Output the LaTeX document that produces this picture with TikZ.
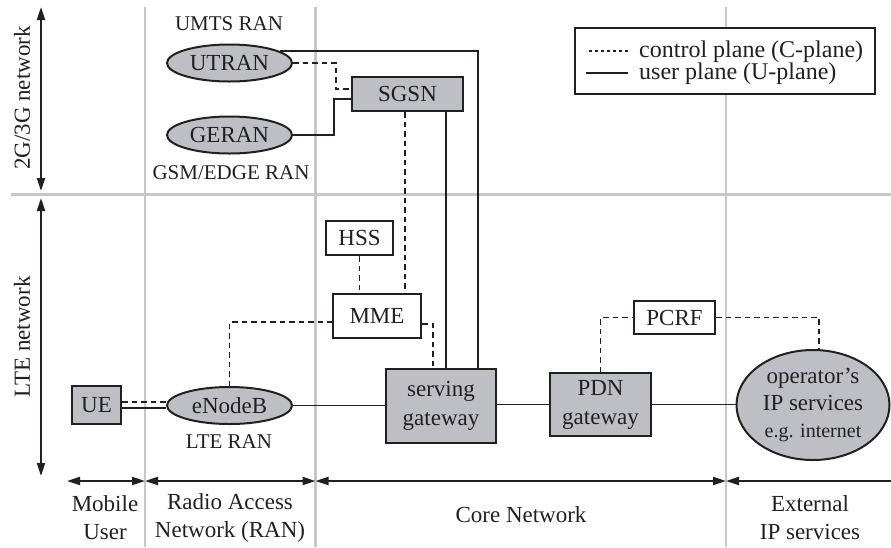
\documentclass[tikz,border=0pt]{standalone}
\usepackage{fontspec}
\setmainfont{Liberation Serif}
\usetikzlibrary{shapes.geometric,arrows.meta,calc}
\definecolor{nodegray}{RGB}{190,191,196}
\definecolor{gridgray}{RGB}{198,199,203}
\definecolor{ink}{RGB}{35,31,32}
\begin{document}
\begin{tikzpicture}[x=1pt,y=-1pt,
  every node/.style={font=\fontsize{23}{28}\selectfont, text=ink, inner sep=0pt},
  small/.style={font=\fontsize{21}{25}\selectfont},
  gbox/.style={draw=ink, fill=nodegray, line width=2pt, rectangle},
  wbox/.style={draw=ink, fill=white, line width=2pt, rectangle},
  gell/.style={draw=ink, fill=nodegray, line width=2pt, ellipse},
  usr/.style={draw=ink, line width=1.9pt},
  ctrl/.style={draw=ink, line width=1.9pt, dash pattern=on 5.5pt off 4pt},
  gridline/.style={draw=gridgray, line width=2.2pt},
  span/.style={draw=ink, line width=2pt,
    {Triangle[length=13pt,width=8pt]}-{Triangle[length=13pt,width=8pt]}},
]
\useasboundingbox (0,0) rectangle (891,547);

% separating grid
\draw[gridline] (145,7) -- (145,547);
\draw[gridline] (315.5,7) -- (315.5,547);
\draw[gridline] (726,7) -- (726,547);
\draw[gridline] (11,194.5) -- (891,194.5);

% network generations (left)
\draw[span] (41,7) -- (41,191);
\draw[span] (41,198) -- (41,476);
\node[rotate=90] at (22,98) {2G/3G network};
\node[rotate=90] at (22,337) {LTE network};

% domains (bottom)
\begin{scope}
\clip (0,0) rectangle (891,547);
\draw[span] (67,481) -- (145,481);
\draw[span] (145,481) -- (315.5,481);
\draw[span] (315.5,481) -- (726,481);
\draw[span] (726,481) -- (905,481);
\end{scope}
\node[align=center] at (105,518) {Mobile\\User};
\node[align=center] at (230,518) {Radio Access\\Network (RAN)};
\node at (521,515) {Core Network};
\node[align=center] at (810,518) {External\\IP services};

% legend
\node[wbox, line width=1.6pt, minimum width=300pt, minimum height=66pt] (legend) at (725,61) {};
\node[anchor=west, font=\fontsize{24}{28}\selectfont] (lc) at (639,52) {control plane (C-plane)};
\node[anchor=west, font=\fontsize{24}{28}\selectfont] (lu) at (639,74) {user plane (U-plane)};
\draw[ctrl, line width=1.5pt, dash pattern=on 3pt off 3pt] ([xshift=-11pt,yshift=1pt]lc.west) -- ++(-42,0);
\draw[usr, line width=1.7pt] ([xshift=-11pt,yshift=1pt]lu.west) -- ++(-42,0);

% 2G/3G nodes
\node[gell, minimum width=125pt, minimum height=37pt] (utran) at (229.5,63) {UTRAN};
\node[gell, minimum width=125pt, minimum height=37pt] (geran) at (229.5,135) {GERAN};
\node[small] at (229,24) {UMTS RAN};
\node[small] at (231,173) {GSM/EDGE RAN};
\node[gbox, minimum width=111pt, minimum height=34pt] (sgsn) at (407.5,94) {SGSN};

% LTE nodes
\node[wbox, minimum width=67pt, minimum height=34pt] (hss) at (359.5,238) {HSS};
\node[wbox, minimum width=88pt, minimum height=44pt] (mme) at (377,316) {MME};
\node[gbox, minimum width=110pt, minimum height=74pt, align=center,
      font=\fontsize{23}{29}\selectfont] (sgw) at (441,406) {serving\\gateway};
\node[gbox, minimum width=101pt, minimum height=63pt, align=center,
      font=\fontsize{23}{29}\selectfont] (pdn) at (600.5,404.5) {PDN\\gateway};
\node[wbox, minimum width=81pt, minimum height=33pt] (pcrf) at (674.5,317.5) {PCRF};
\node[gell, minimum width=153pt, minimum height=110pt] (ops) at (813,405) {};
\node[align=center, font=\fontsize{23}{27}\selectfont] at (ops.center)
  {operator’s\\IP services\\{\fontsize{20}{24}\selectfont e.g. internet}};
\node[gbox, minimum width=49pt, minimum height=38pt] (ue) at (96.5,405) {UE};
\node[gell, minimum width=125pt, minimum height=37pt] (enb) at (229.5,405.5) {eNodeB};
\node[small] at (229,442) {LTE RAN};

% user plane
\draw[usr] (utran.13) -| ([xshift=37pt]sgw.north);
\draw[usr] (geran.east) -- ++(41,0) |- ([yshift=-5pt]sgsn.west);
\draw[usr] ([xshift=38.5pt]sgsn.south) -- ([xshift=38.5pt]sgsn.south |- sgw.north);
\draw[usr] ([yshift=-3pt]ue.east) -- ([yshift=-3pt]ue.east -| enb.west);
\draw[usr] (enb.east) -- (enb.east -| sgw.west);
\draw[usr] (sgw.east |- pdn.west) -- (pdn.west);
\draw[usr] (pdn.east) -- (pdn.east -| ops.west);

% control plane
\draw[ctrl] (utran.east) -- ++(43,0) |- ([yshift=5pt]sgsn.west);
\draw[ctrl] ([xshift=-2.5pt]sgsn.south) -- ([xshift=-2.5pt]sgsn.south |- mme.north);
\draw[ctrl] (hss.south) -- (hss.south |- mme.north);
\draw[ctrl] ([yshift=-8pt]mme.east) -| ([xshift=-8pt]sgw.north);
\draw[ctrl] (enb.north) |- ([yshift=-6pt]mme.west);
\draw[ctrl] ([yshift=3pt]ue.east) -- ([yshift=3pt]ue.east -| enb.west);
\draw[ctrl] (pdn.north) |- (pcrf.west);
\draw[ctrl] (pcrf.east) -| ([xshift=6pt]ops.north);
\end{tikzpicture}
\end{document}
